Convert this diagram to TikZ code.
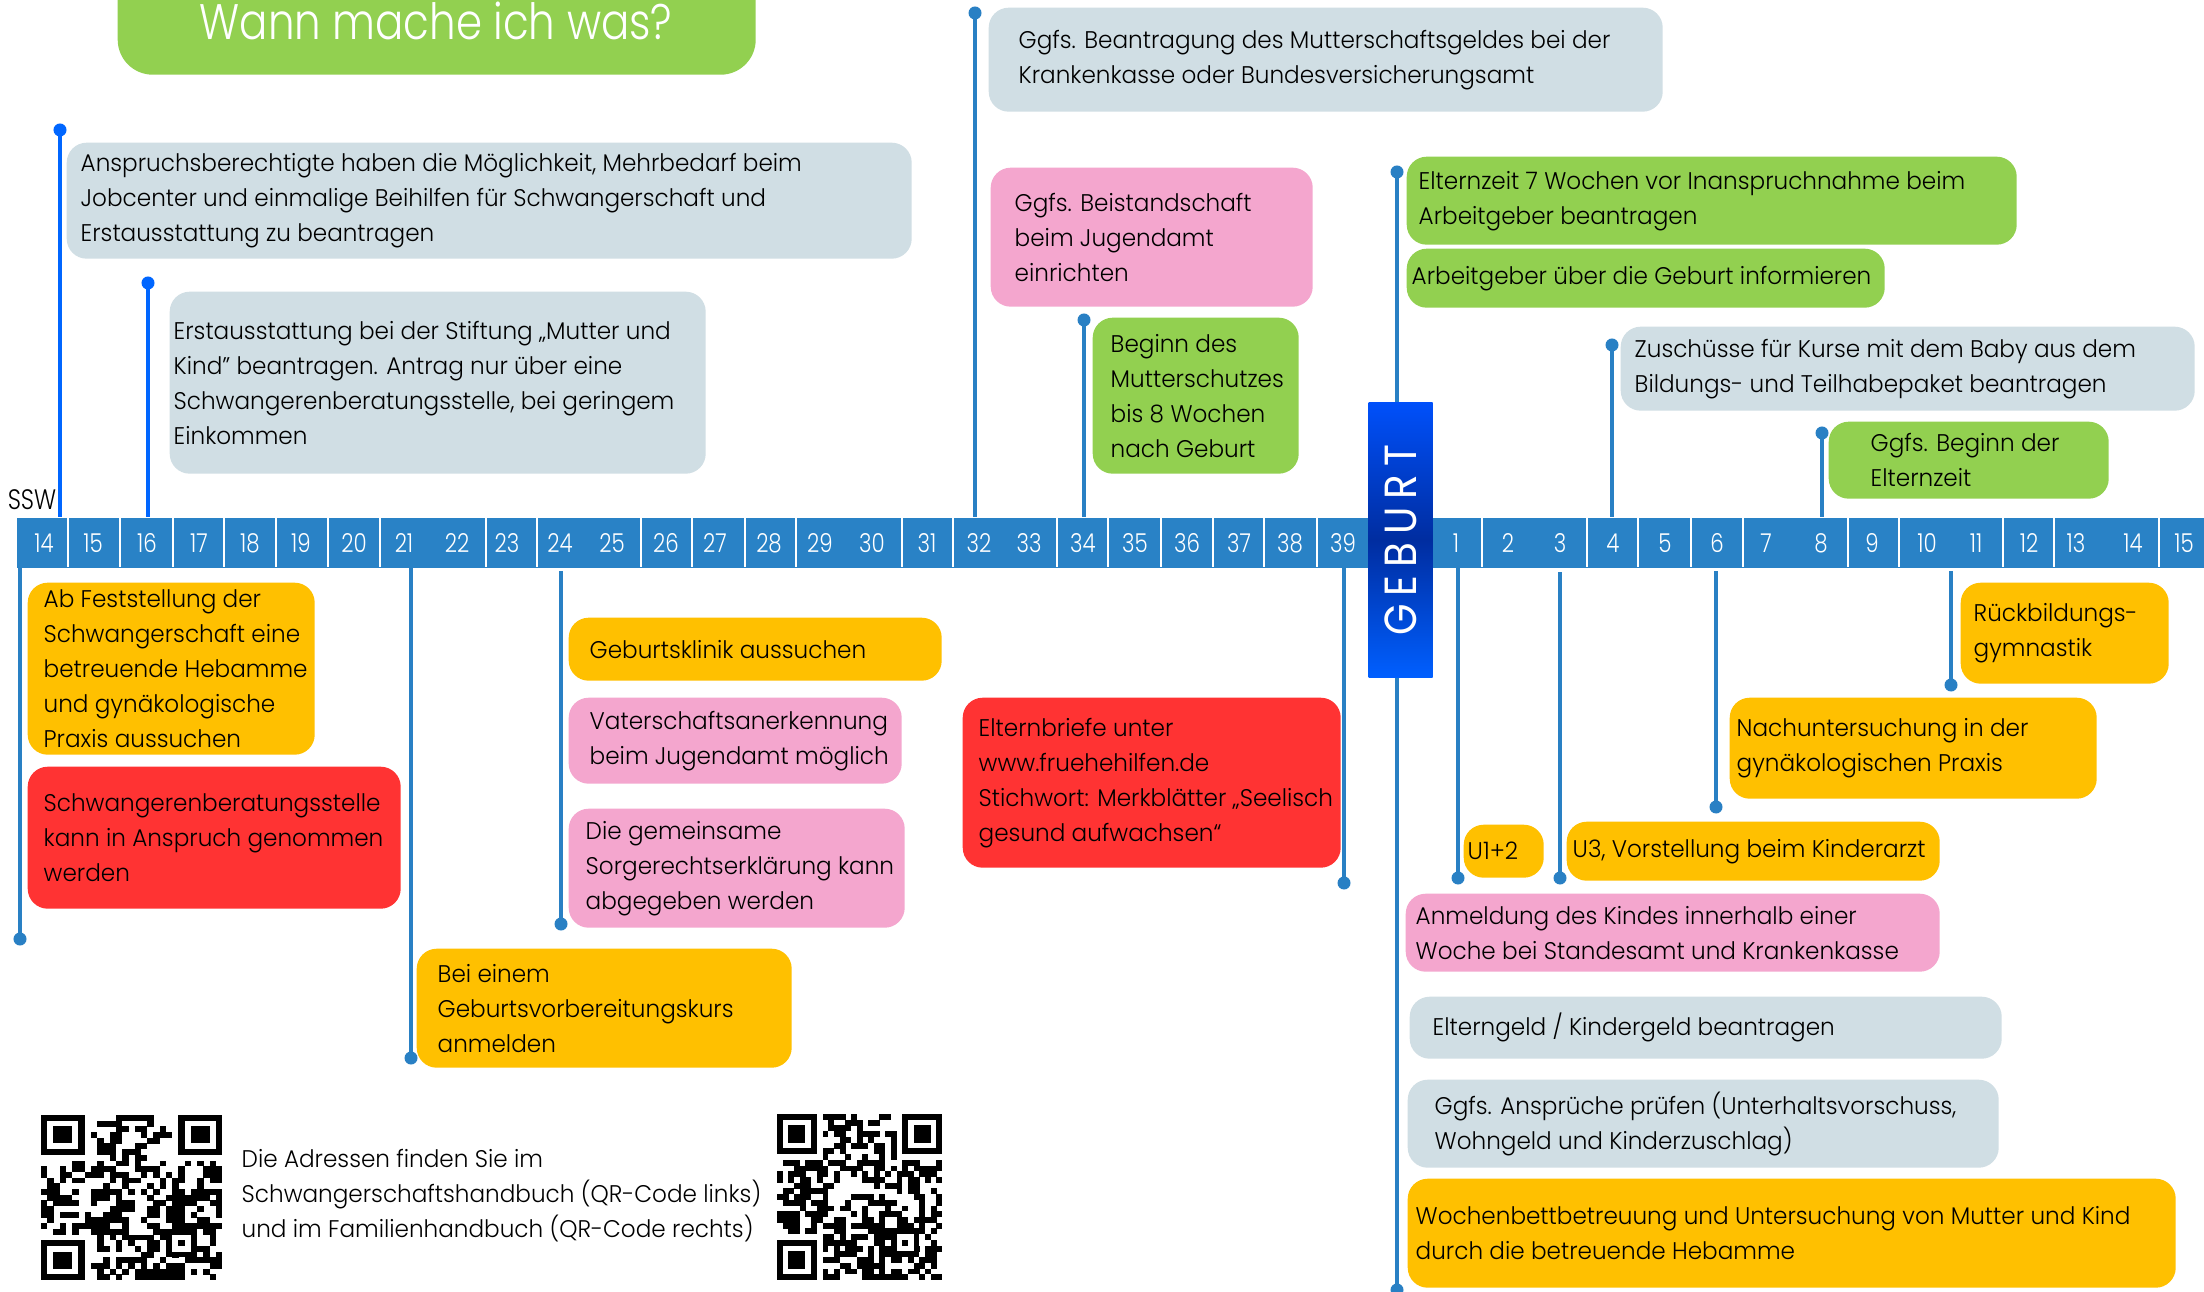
\documentclass[tikz,border=0pt]{standalone}
\usepackage{fontspec}
\setmainfont{Poppins}[UprightFont=* Light, FakeStretch=0.96]
\newfontfamily\numfont{Poppins}[UprightFont=* Light, FakeStretch=0.82]
\newfontfamily\gebfont{Poppins}[FakeStretch=0.9,LetterSpace=18]
\newfontfamily\titlefont{Poppins}[UprightFont=* Light, FakeStretch=0.84]
\usetikzlibrary{calc}
\definecolor{cgreen}{RGB}{146,208,80}
\definecolor{corange}{RGB}{255,192,0}
\definecolor{cred}{RGB}{255,51,51}
\definecolor{cpink}{RGB}{244,166,206}
\definecolor{cgrey}{RGB}{208,222,228}
\definecolor{cbar}{RGB}{41,130,198}
\definecolor{cline}{RGB}{41,128,196}
\definecolor{cbright}{RGB}{0,102,255}
\definecolor{gtop}{RGB}{0,80,250}
\definecolor{gmid}{RGB}{0,45,160}
\definecolor{gbot}{RGB}{0,95,255}
\newcommand\bodysize{\fontsize{6.85pt}{9.96pt}\selectfont}
\newcommand\tbox[8]{%
  \node[tb, fill=#6, minimum width={(#4-#2)*0.01cm}, minimum height={(#5-#3)*0.01cm}] (#1) at (#2,#3) {};
  \node[txt] (#1t) at ([xshift={(#7-#2)*0.01cm}]#1.west) {#8};
}
\newcommand\qrfinder[2]{%
  \fill[white] (#1-1,#2-1) rectangle ++(9,9);
  \fill[black] (#1,#2) rectangle ++(7,7);
  \fill[white] (#1+1,#2+1) rectangle ++(5,5);
  \fill[black] (#1+2,#2+2) rectangle ++(3,3);
}
\newcommand\qrcode[1]{%
  \pgfmathsetseed{#1}
  \foreach \i in {0,...,28}{\foreach \j in {0,...,28}{%
    \pgfmathtruncatemacro\r{rnd<0.5?1:0}%
    \ifnum\r=1 \fill[black] (\i,\j) rectangle ++(1.03,1.03);\fi}}
  \qrfinder{0}{0}\qrfinder{22}{0}\qrfinder{0}{22}
  \fill[white] (20,20) rectangle ++(5,5);
  \fill[black] (21,21) rectangle ++(3,3);
  \fill[black] (20,20) rectangle ++(5,1);
  \fill[black] (20,24) rectangle ++(5,1);
  \fill[black] (20,20) rectangle ++(1,5);
  \fill[black] (24,20) rectangle ++(1,5);
  \fill[white] (21,21) rectangle ++(1,3);
  \fill[white] (21,21) rectangle ++(3,1);
  \fill[white] (23,21) rectangle ++(1,3);
  \fill[white] (21,23) rectangle ++(3,1);
}
\begin{document}
\begin{tikzpicture}[x=0.01cm, y=-0.01cm,
  tb/.style={rounded corners=0.2cm, inner sep=0pt, anchor=north west, draw=none},
  txt/.style={align=left, inner sep=0pt, anchor=west, font=\bodysize, text=black},
  conn/.style={line width=0.04cm, draw=cline},
  brightconn/.style={line width=0.045cm, draw=cbright},
  dot/.style={circle, fill=cline, inner sep=0pt, minimum size=0.13cm},
  brightdot/.style={circle, fill=cbright, inner sep=0pt, minimum size=0.13cm},
  numlbl/.style={anchor=base, text=white, inner sep=0pt, font=\numfont\fontsize{7.4pt}{8pt}\selectfont}]
\useasboundingbox (0,0) rectangle (2204,1292);
\fill[white] (0,0) rectangle (2204,1292);

% title
\node[tb, fill=cgreen, rounded corners=0.35cm, minimum width={638*0.01cm}, minimum height={114*0.01cm}] (title) at (117,-40) {};
\node[anchor=base, text=white, inner sep=0pt, font=\titlefont\fontsize{14.2pt}{16pt}\selectfont] (titlet) at (436,40) {Wann mache ich was?};

% timeline bar
\node[fill=cbar, inner sep=0pt, anchor=north west, minimum width={2188*0.01cm}, minimum height={50*0.01cm}] (bar) at (16,517) {};
\foreach \x in {68,120,173,224,276,328,380,486,537,641,692,745,796,902,953,1057,1108,1161,1213,1264,1317,1482,1587,1638,1691,1743,1848,1899,2003,2054,2159}
  \draw[white, line width=0.02cm] (\x,517) -- (\x,567);
\foreach \x/\n in {44/14,93/15,147/16,199/17,250/18,301/19,354/20,404/21,457/22,507/23,560/24,612/25,666/26,715/27,769/28,820/29,872/30,927/31,979/32,1029/33,1083/34,1135/35,1187/36,1239/37,1290/38,1343/39}
  \node[numlbl] (p\n) at (\x,553) {\n};
\foreach \x/\n in {1456/1,1508/2,1560/3,1613/4,1665/5,1717/6,1766/7,1821/8,1872/9,1927/10,1976/11,2029/12,2076/13,2133/14,2184/15}
  \node[numlbl] (q\n) at (\x,553) {\n};
\node[anchor=base, inner sep=0pt, font=\numfont\fontsize{8pt}{9pt}\selectfont] (ssw) at (32,510) {SSW};

% Geburt
\node[inner sep=0pt, anchor=north west, minimum width={64*0.01cm}, minimum height={275*0.01cm}, top color=gtop, bottom color=gbot, middle color=gmid] (geburt) at (1368,402) {};
\node[rotate=90, text=white, inner sep=0pt, font=\gebfont\fontsize{12.8pt}{14pt}\selectfont] (geburtt) at (geburt.center) {GEBURT};

% connectors up
\node[brightdot] (u1) at (60,130) {};
\node[brightdot] (u2) at (148,283) {};
\node[dot] (u3) at (975,13) {};
\node[dot] (u4) at (1084,320) {};
\node[dot] (u5) at (1397,172) {};
\node[dot] (u6) at (1612,345) {};
\node[dot] (u7) at (1822,433) {};
\draw[brightconn] (bar.north -| u1) -- (u1.center);
\draw[brightconn] (bar.north -| u2) -- (u2.center);
\draw[conn] (bar.north -| u3) -- (u3.center);
\draw[conn] (bar.north -| u4) -- (u4.center);
\draw[conn] (geburt.north -| u5) -- (u5.center);
\draw[conn] (bar.north -| u6) -- (u6.center);
\draw[conn] (bar.north -| u7) -- (u7.center);

% connectors down
\node[dot] (d1) at (20,939) {};
\node[dot] (d2) at (411,1058) {};
\node[dot] (d3) at (561,924) {};
\node[dot] (d4) at (1344,883) {};
\node[dot] (d5) at (1458,878) {};
\node[dot] (d6) at (1560,878) {};
\node[dot] (d7) at (1716,807) {};
\node[dot] (d8) at (1951,685) {};
\node[dot] (d9) at (1397,1290) {};
\draw[conn] (bar.south -| d1) -- (d1.center);
\draw[conn] (bar.south -| d2) -- (d2.center);
\draw[conn] ([yshift={-3*0.01cm}]bar.south -| d3) -- (d3.center);
\draw[conn] (bar.south -| d4) -- (d4.center);
\draw[conn] (bar.south -| d5) -- (d5.center);
\draw[conn] ([yshift={-4*0.01cm}]bar.south -| d6) -- (d6.center);
\draw[conn] ([yshift={-3*0.01cm}]bar.south -| d7) -- (d7.center);
\draw[conn] ([yshift={-3*0.01cm}]bar.south -| d8) -- (d8.center);
\draw[conn] (geburt.south -| d9) -- (d9.center);

% boxes above the bar
\tbox{A}{66}{142}{911}{258}{cgrey}{80}{Anspruchsberechtigte haben die Möglichkeit, Mehrbedarf beim\\Jobcenter und einmalige Beihilfen für Schwangerschaft und\\Erstausstattung zu beantragen}
\tbox{B}{169}{291}{705}{473}{cgrey}{173}{Erstausstattung bei der Stiftung „Mutter und\\Kind" beantragen. Antrag nur über eine\\Schwangerenberatungsstelle, bei geringem\\Einkommen}
\tbox{C}{988}{7}{1662}{111}{cgrey}{1018}{Ggfs. Beantragung des Mutterschaftsgeldes bei der\\Krankenkasse oder Bundesversicherungsamt}
\tbox{D}{990}{167}{1312}{306}{cpink}{1014}{Ggfs. Beistandschaft\\beim Jugendamt\\einrichten}
\tbox{E}{1092}{317}{1298}{473}{cgreen}{1110}{Beginn des\\Mutterschutzes\\bis 8 Wochen\\nach Geburt}
\tbox{F}{1406}{156}{2016}{244}{cgreen}{1418}{Elternzeit 7 Wochen vor Inanspruchnahme beim\\Arbeitgeber beantragen}
\tbox{G}{1406}{248}{1884}{307}{cgreen}{1411}{Arbeitgeber über die Geburt informieren}
\tbox{H}{1620}{326}{2194}{410}{cgrey}{1634}{Zuschüsse für Kurse mit dem Baby aus dem\\Bildungs- und Teilhabepaket beantragen}
\tbox{I}{1828}{421}{2108}{498}{cgreen}{1870}{Ggfs. Beginn der\\Elternzeit}

% boxes below the bar
\tbox{J}{27}{582}{314}{754}{corange}{43}{Ab Feststellung der\\Schwangerschaft eine\\betreuende Hebamme\\und gynäkologische\\Praxis aussuchen}
\tbox{K}{27}{766}{400}{908}{cred}{43}{Schwangerenberatungsstelle\\kann in Anspruch genommen\\werden}
\tbox{L}{568}{617}{941}{680}{corange}{589}{Geburtsklinik aussuchen}
\tbox{M}{568}{697}{901}{783}{cpink}{589}{Vaterschaftsanerkennung\\beim Jugendamt möglich}
\tbox{N}{568}{808}{904}{927}{cpink}{585}{Die gemeinsame\\Sorgerechtserklärung kann\\abgegeben werden}
\tbox{O}{416}{948}{791}{1067}{corange}{437}{Bei einem\\Geburtsvorbereitungskurs\\anmelden}
\tbox{P}{962}{697}{1340}{867}{cred}{978}{Elternbriefe unter\\www.fruehehilfen.de\\Stichwort: Merkblätter „Seelisch\\gesund aufwachsen“}
\tbox{Q}{1960}{582}{2168}{683}{corange}{1973}{Rückbildungs-\\gymnastik}
\tbox{R}{1729}{697}{2096}{798}{corange}{1736}{Nachuntersuchung in der\\gynäkologischen Praxis}
\tbox{S}{1463}{824}{1543}{877}{corange}{1467}{U1+2}
\tbox{T}{1566}{821}{1939}{880}{corange}{1572}{U3, Vorstellung beim Kinderarzt}
\tbox{U}{1405}{893}{1939}{971}{cpink}{1415}{Anmeldung des Kindes innerhalb einer\\Woche bei Standesamt und Krankenkasse}
\tbox{V}{1409}{996}{2001}{1058}{cgrey}{1432}{Elterngeld / Kindergeld beantragen}
\tbox{W}{1407}{1079}{1998}{1167}{cgrey}{1434}{Ggfs. Ansprüche prüfen (Unterhaltsvorschuss,\\Wohngeld und Kinderzuschlag)}
\tbox{X}{1407}{1178}{2175}{1287}{corange}{1415}{Wochenbettbetreuung und Untersuchung von Mutter und Kind\\durch die betreuende Hebamme}

% QR codes and note
\begin{scope}[shift={(41,1115)}, x=0.0624cm, y=-0.0569cm]
  \qrcode{17}
\end{scope}
\begin{scope}[shift={(777,1114)}, x=0.0569cm, y=-0.0572cm]
  \qrcode{523}
\end{scope}
\node[txt] (qrnote) at (241,1196) {Die Adressen finden Sie im\\Schwangerschaftshandbuch (QR-Code links)\\und im Familienhandbuch (QR-Code rechts)};
\end{tikzpicture}
\end{document}
